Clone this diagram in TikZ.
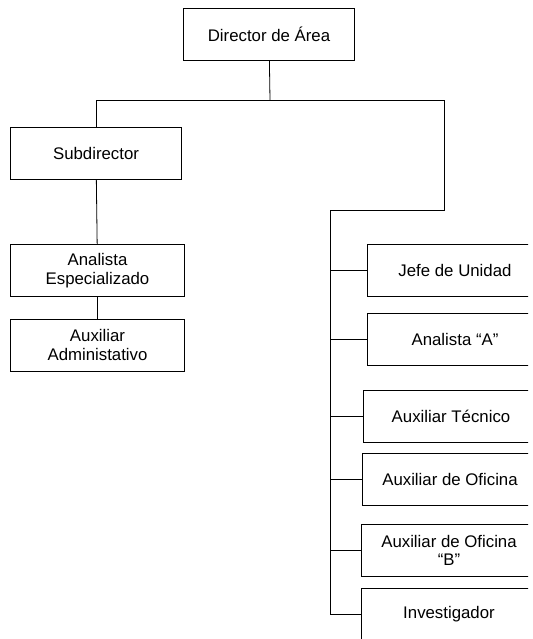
\documentclass[tikz,border=0pt]{standalone}
\usepackage{fontspec}
\setmainfont{Liberation Sans}
\usetikzlibrary{positioning, calc}
\tikzset{puesto/.style={draw, line width=0.6pt, minimum width=128pt, minimum height=39pt,
  align=center, inner sep=2pt}}

\begin{document}
\begin{tikzpicture}[x=0.75pt, y=-0.75pt, line width=0.6pt,
  every node/.style={font=\fontsize{12.6}{14}\selectfont}]
    \useasboundingbox (0,0) rectangle (532,639);
    \clip (0,0) rectangle (528,639);

    % left branch
    \draw(269,34) node[puesto] (dir) {Director de Área};
    \draw(96,153) node[puesto] (sub) {Subdirector};
    \draw(97.5,270.5) node[puesto, minimum width=130pt] (esp) {Analista\\Especializado};
    \draw(97.5,345) node[puesto, minimum width=130pt] (adm) {Auxiliar\\Administativo};

    % right branch
    \draw(455,270) node[puesto, minimum width=132pt] (jefe) {Jefe de Unidad};
    \draw(455,339.5) node[puesto, minimum width=132pt] (anA) {Analista “A”};
    \draw(451,416) node[puesto, minimum width=132pt] (tec) {Auxiliar Técnico};
    \draw(450,479.5) node[puesto, minimum width=132pt] (ofi) {Auxiliar de Oficina};
    \draw(449,550.5) node[puesto, minimum width=132pt] (ofiB) {Auxiliar de Oficina\\“B”};
    \draw(449,614) node[puesto, minimum width=132pt] (inv) {Investigador};

    \coordinate (bus) at (270,100);
    \coordinate (ramal) at (444,210);
    \coordinate (eje) at (330,210);

    \draw (dir) -- (bus);
    \draw (sub) -- (sub |- bus) -- (bus -| ramal) -- (ramal) -- (eje) -- (eje |- inv) -- (inv);
    \draw (sub) -- (esp);
    \draw (esp) -- (adm);
    \foreach \n in {jefe, anA, tec, ofi, ofiB}
      \draw (\n) -- (eje |- \n);

\end{tikzpicture}
\end{document}
